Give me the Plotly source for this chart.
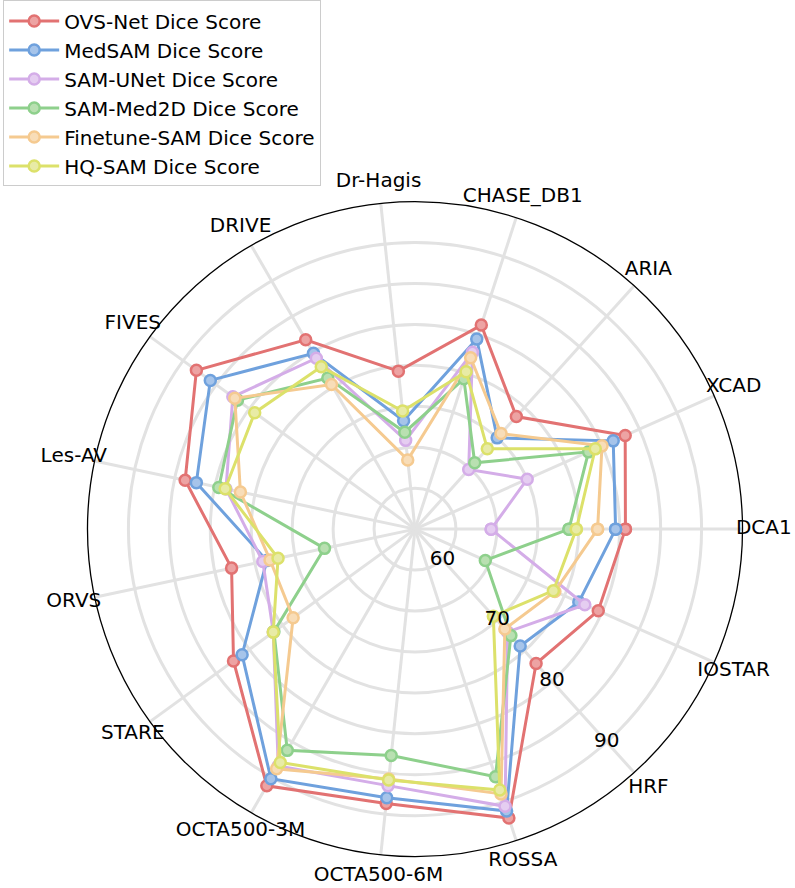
import plotly.graph_objects as go

datasets = ["DCA1", "XCAD", "ARIA", "CHASE_DB1", "Dr-Hagis", "DRIVE", "FIVES", "Les-AV",
            "ORVS", "STARE", "OCTA500-3M", "OCTA500-6M", "ROSSA", "HRF", "IOSTAR"]

ovs_net = [80.7, 83.1, 73.5, 81.2, 74.4, 81.7, 88.0, 83.7, 77.9, 82.4, 91.2, 88.7, 92.1, 77.1, 79.5]
medsam = [79.5, 81.5, 70.0, 79.4, 68.3, 79.8, 85.9, 82.3, 73.5, 81.1, 90.2, 88.0, 91.2, 74.2, 76.9]
sam_unet = [64.3, 70.0, 64.8, 77.7, 65.9, 79.1, 82.5, 78.6, 74.0, 76.4, 88.4, 86.5, 90.6, 71.9, 77.7]
sam_med2d = [73.8, 78.2, 65.9, 74.3, 66.9, 76.3, 81.8, 79.5, 66.3, 76.3, 86.2, 82.8, 86.8, 72.5, 64.4]
finetune_sam = [77.3, 80.0, 70.7, 77.0, 63.5, 75.4, 82.2, 76.8, 73.1, 73.4, 88.8, 85.7, 89.0, 71.4, 73.7]
hq_sam = [74.7, 79.1, 68.2, 75.2, 69.5, 77.9, 79.2, 78.7, 72.1, 76.4, 87.9, 85.8, 88.5, 69.3, 73.5]

series = [
    ("OVS-Net Dice Score", ovs_net, "#E27272", "#EDA3A3"),
    ("MedSAM Dice Score", medsam, "#6FA1DD", "#A6C4EA"),
    ("SAM-UNet Dice Score", sam_unet, "#D4ADE8", "#E5CDF1"),
    ("SAM-Med2D Dice Score", sam_med2d, "#8ED08C", "#B9E0B1"),
    ("Finetune-SAM Dice Score", finetune_sam, "#F5CA90", "#F8DDB8"),
    ("HQ-SAM Dice Score", hq_sam, "#DCE16A", "#E8EBA6"),
]

grid_ticks = [60, 65, 70, 75, 80, 85, 90]
radial_labels = [60, 70, 80, 90]
radial_label_axis = "HRF"   # matplotlib-style r-labels sit on this spoke
LABEL_R = 97.6              # category labels just outside the frame

# main polar frame: r 55..95 over a 658px circle centred at (415, 527.5)
W, H = 795, 888
CX, CY, PX_PER_UNIT = 415, 527.5, 8.225
R_MIN, R_MAX, R_LABEL_MAX = 55, 95, 98.5


def domain_for(rmax):
    half = (rmax - R_MIN) * PX_PER_UNIT
    return dict(x=[(CX - half) / W, (CX + half) / W],
                y=[(H - CY - half) / H, (H - CY + half) / H])


fig = go.Figure()
for name, vals, color, fill in series:
    fig.add_trace(
        go.Scatterpolar(
            r=vals + vals[:1],
            theta=datasets + datasets[:1],
            mode="lines+markers",
            name=name,
            line=dict(color=color, width=3),
            marker=dict(size=11, color=fill, line=dict(color=color, width=2.5)),
        )
    )

# radial tick labels, centred on the spoke like matplotlib
fig.add_trace(
    go.Scatterpolar(
        r=radial_labels,
        theta=[radial_label_axis] * len(radial_labels),
        mode="text",
        text=[str(v) for v in radial_labels],
        textposition="middle center",
        textfont=dict(size=20, color="black"),
        showlegend=False,
        hoverinfo="skip",
    )
)

# category labels, centred outside the circle (on an overlaid, larger polar)
fig.add_trace(
    go.Scatterpolar(
        r=[LABEL_R] * len(datasets),
        theta=datasets,
        mode="text",
        text=datasets,
        textposition="middle center",
        textfont=dict(size=20, color="black"),
        cliponaxis=False,
        showlegend=False,
        hoverinfo="skip",
        subplot="polar2",
    )
)

fig.update_layout(
    width=W,
    height=H,
    margin=dict(l=0, r=0, t=0, b=0),
    paper_bgcolor="white",
    font=dict(family="DejaVu Sans", size=20, color="black"),
    polar=dict(
        domain=domain_for(R_MAX),
        bgcolor="white",
        angularaxis=dict(
            categoryarray=datasets,
            direction="counterclockwise",
            rotation=0,
            showline=True,
            linecolor="black",
            linewidth=1.3,
            gridcolor="#e2e2e2",
            gridwidth=2.5,
            ticks="",
            showticklabels=False,
        ),
        radialaxis=dict(
            range=[R_MIN, R_MAX],
            tickvals=grid_ticks,
            showline=False,
            showticklabels=False,
            ticks="",
            gridcolor="#e2e2e2",
            gridwidth=2.5,
        ),
    ),
    polar2=dict(
        domain=domain_for(R_LABEL_MAX),
        bgcolor="rgba(0,0,0,0)",
        angularaxis=dict(
            categoryarray=datasets,
            direction="counterclockwise",
            rotation=0,
            showline=False,
            showgrid=False,
            ticks="",
            showticklabels=False,
        ),
        radialaxis=dict(range=[R_MIN, R_LABEL_MAX], visible=False),
    ),
    legend=dict(
        x=0.004,
        y=1.004,
        xanchor="left",
        yanchor="top",
        bgcolor="white",
        bordercolor="#cccccc",
        borderwidth=1,
        font=dict(size=20),
        itemwidth=50,
    ),
)

fig.write_html(
    "out.html",
    config={"displayModeBar": False},
    post_script="document.body.style.margin='0';",
)
